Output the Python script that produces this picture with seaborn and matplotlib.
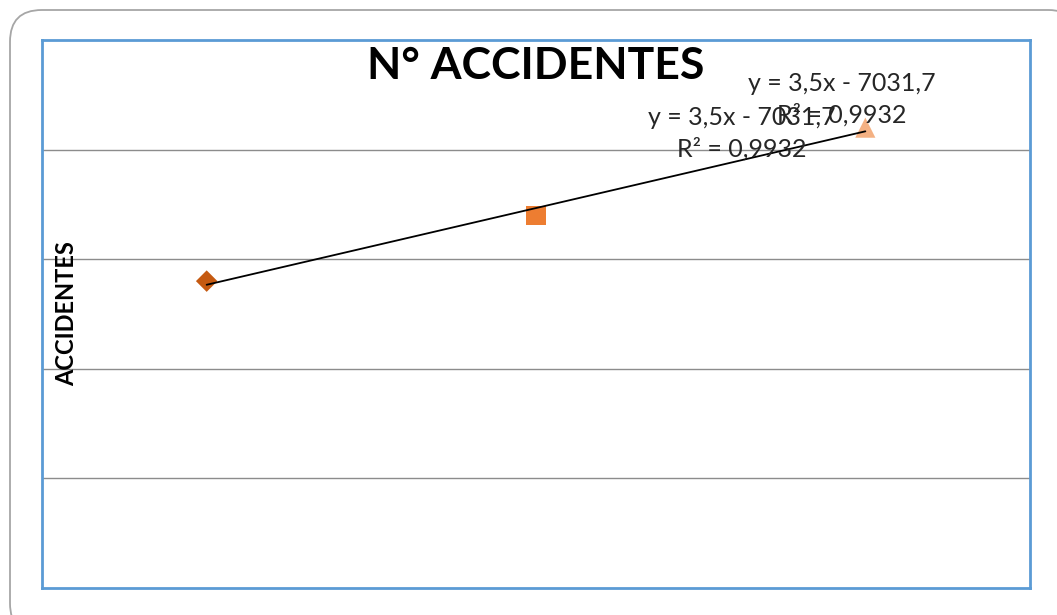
import matplotlib
matplotlib.use("Agg")
import matplotlib.pyplot as plt
from matplotlib.patches import FancyBboxPatch
import numpy as np
import pandas as pd
import seaborn as sns

# Accidents per year
years = [2013, 2014, 2015]
accidentes = [14, 17, 21]
series = ["2013", "2014", "2015"]

title = "N° ACCIDENTES"
y_label = "ACCIDENTES"

# marker styling per series
series_colors = ["#C55A11", "#ED7D31", "#F4B183"]
series_markers = ["D", "s", "^"]
series_sizes = [120, 190, 210]

df = pd.DataFrame({"Año": years, "Accidentes": accidentes, "Serie": series})

sns.set_theme(style="white")
plt.rcParams["font.family"] = ["Lato", "DejaVu Sans"]

W, H = 1057, 615
fig = plt.figure(figsize=(W / 100, H / 100), dpi=100)

# rounded outer chart frame
frame = FancyBboxPatch((10 / W, -20 / H), 1070 / W, 615 / H - 10 / H + 20 / H,
                       boxstyle="round,pad=0,rounding_size=0.03",
                       transform=fig.transFigure, facecolor="white",
                       edgecolor="#A6A6A6", linewidth=1.3, zorder=-5,
                       mutation_aspect=W / H)
fig.patches.append(frame)

ax = fig.add_axes([42 / W, (H - 588) / H, (1030 - 42) / W, (588 - 40) / H])
ax.set_zorder(1)
ax.set_facecolor("white")

# linear trend line through the three yearly values
sns.regplot(data=df, x="Año", y="Accidentes", scatter=False, ci=None,
            color="black", line_kws={"linewidth": 1.3, "zorder": 4}, ax=ax)

sns.scatterplot(data=df, x="Año", y="Accidentes", hue="Serie", style="Serie",
                size="Serie",
                palette=dict(zip(series, series_colors)),
                markers=dict(zip(series, series_markers)),
                sizes=dict(zip(series, series_sizes)),
                linewidth=0, legend=False, ax=ax, zorder=3)

ax.set_xlim(2012.5, 2015.5)
ax.set_ylim(0, 25)
ax.set_xticks([])
ax.set_yticks([5, 10, 15, 20])
ax.tick_params(axis="y", length=0, labelleft=False)
ax.yaxis.grid(True, color="#8C8C8C", linewidth=1.0)
ax.set_axisbelow(True)
for sp in ax.spines.values():
    sp.set_color("#5B9BD5")
    sp.set_linewidth(2)

ax.set_xlabel("")
ax.set_ylabel(y_label, fontsize=17, fontweight="bold", color="black")
ax.yaxis.label.set_va("center")
ax.yaxis.set_label_coords(0.025, 0.5)

ax.text(0.5, 0.952, title, transform=ax.transAxes, ha="center", va="center",
        fontsize=32, fontweight="bold", color="black")

# trend equation and R² labels
slope, intercept = np.polyfit(years, accidentes, 1)
pred = np.polyval([slope, intercept], years)
r2 = 1 - np.sum((np.array(accidentes) - pred) ** 2) / np.sum(
    (np.array(accidentes) - np.mean(accidentes)) ** 2)
sign = "-" if intercept < 0 else "+"
eq = f"y = {slope:.1f}x {sign} {abs(intercept):.1f}".replace(".", ",")
r2_txt = f"R² = {r2:.4f}".replace(".", ",")
label = eq + "\n" + r2_txt

for cx, cy in [((842 - 42) / 988, (588 - 99) / 548),
               ((742 - 42) / 988, (588 - 133) / 548)]:
    ax.text(cx, cy, label, transform=ax.transAxes, ha="center", va="center",
            fontsize=18, color="#262626", linespacing=1.42, zorder=5)

fig.savefig("out.png", dpi=100, facecolor="white")
